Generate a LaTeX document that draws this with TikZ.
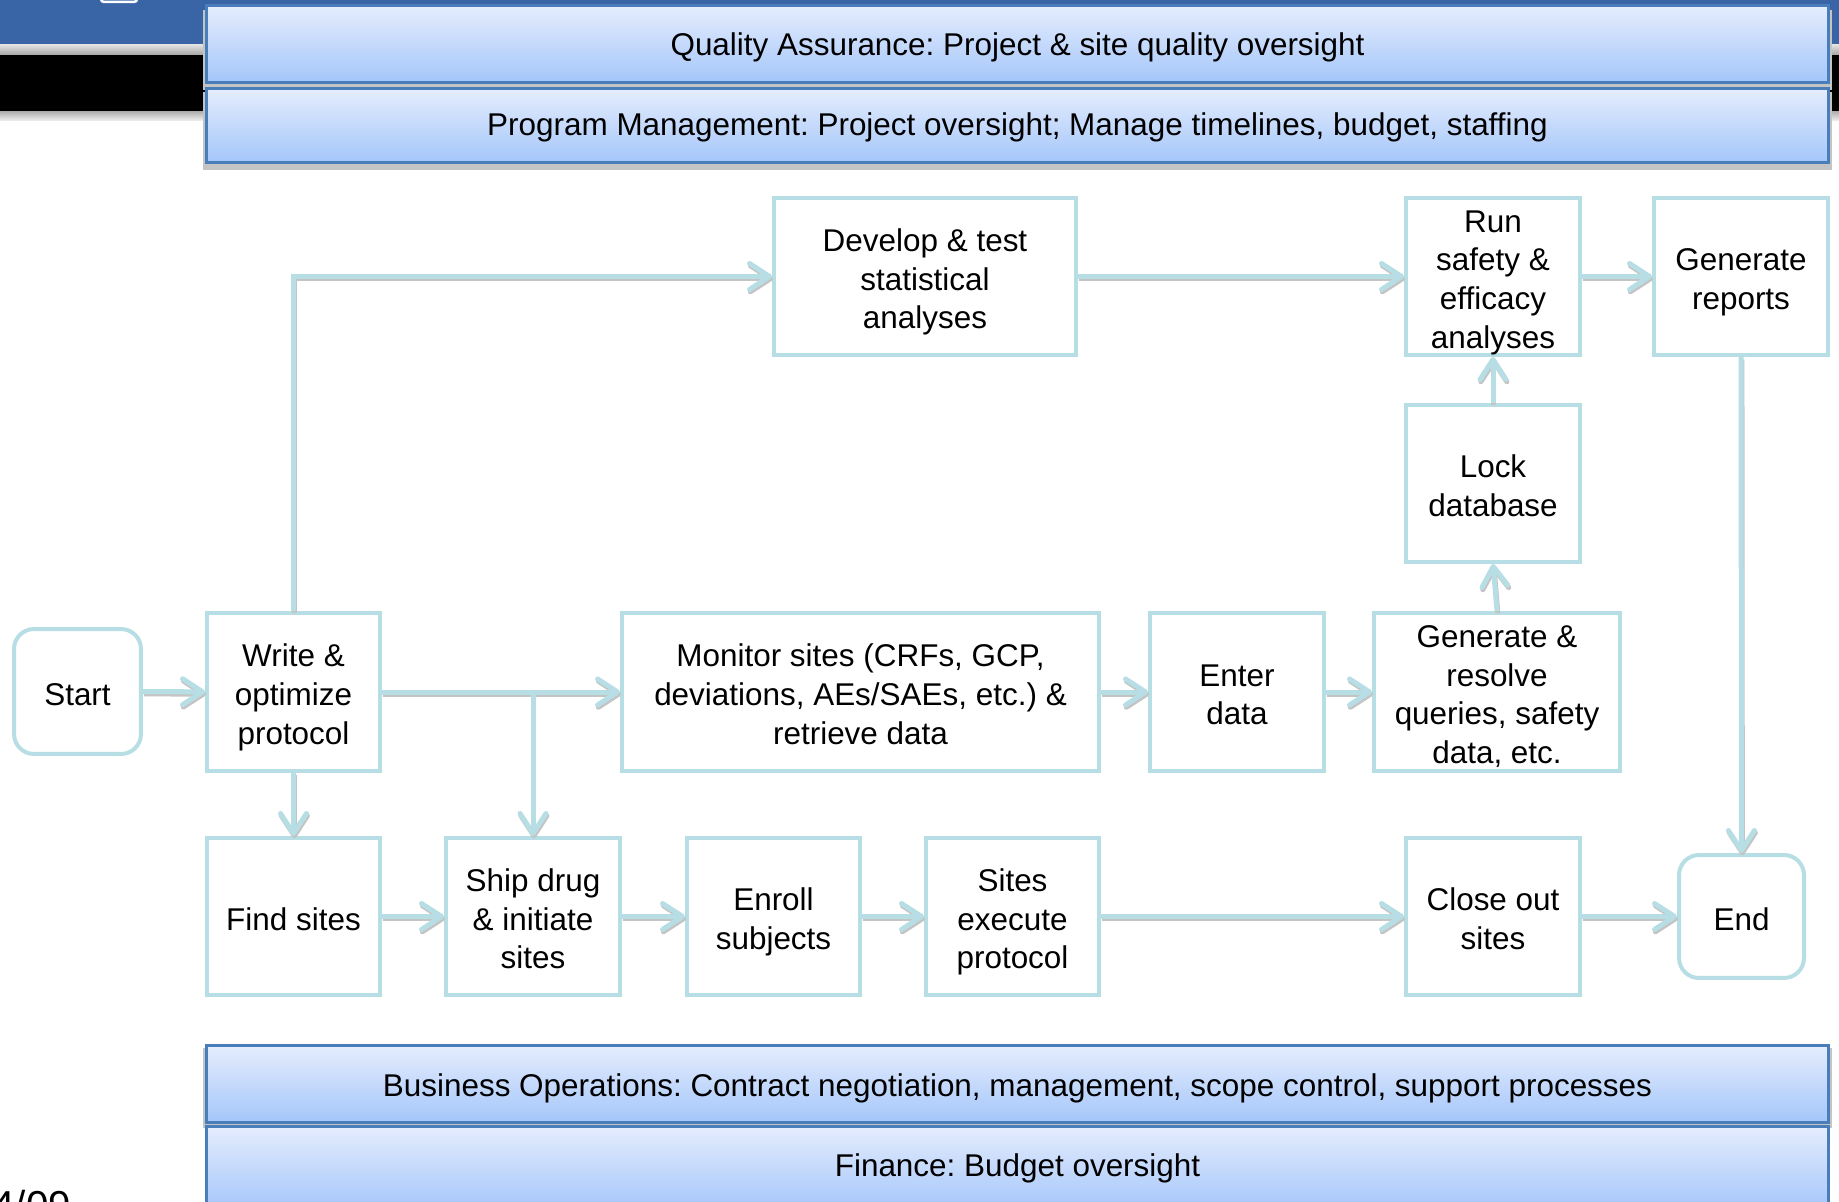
\documentclass[tikz,border=0pt]{standalone}
\usepackage{fontspec}
\setmainfont{Liberation Sans}
\usetikzlibrary{arrows.meta,calc}
\definecolor{boxc}{RGB}{183,222,228}
\definecolor{bandtop}{RGB}{229,237,253}
\definecolor{bandbot}{RGB}{164,198,250}
\definecolor{bandline}{RGB}{74,126,187}
\definecolor{hdrblue}{RGB}{57,101,167}
\definecolor{shadowc}{RGB}{196,196,196}
\newcommand\ta{\rule{0pt}{1.07em}}
\newcommand\tb{\rule[-0.21em]{0pt}{0.21em}}
\newcommand\tbx[1]{\rule[-#1]{0pt}{#1}}
\tikzset{
  boxtext/.style={font=\fontsize{17.9}{22}\selectfont\frenchspacing, align=center},
  procbox/.style={boxtext, draw=boxc, line width=0.08cm, fill=white, inner sep=0pt},
  termbox/.style={procbox, rounded corners=0.4cm},
  band/.style={boxtext, draw=bandline, line width=0.06cm, top color=bandtop, bottom color=bandbot,
    minimum width=32.44cm, inner sep=0pt},
  conn/.style={draw=boxc, line width=0.1cm, -{Straight Barb[length=0.4cm,width=0.52cm,round]}},
  connshadow/.style={conn, draw=shadowc, transform canvas={shift={(0.5pt,-1.3pt)}}},
}
\newcommand\arr[1]{\draw[connshadow] #1; \draw[conn] #1;}
\begin{document}
\begin{tikzpicture}[x=0.02cm,y=-0.02cm]
\useasboundingbox (0,0) rectangle (1839,1202);
% header strip
\fill[hdrblue] (0,-2) rectangle (1839,45);
\shade[top color=gray!25, bottom color=gray!70] (0,45) rectangle (1839,55);
\fill[black] (0,55) rectangle (1839,112);
\shade[top color=gray!60, bottom color=gray!10] (0,112) rectangle (1839,121);
\draw[white, line width=0.05cm, rounded corners=0.06cm] (101,-8) rectangle (137,2);

% band shadows
\fill[shadowc] (203,10) rectangle (1832,90);
\fill[shadowc] (203,92) rectangle (1832,170);
\fill[shadowc] (203,1048) rectangle (1832,1128);

% bands
\node[band, minimum height=1.54cm] (qa) at (1017.5,44) {\ta\tbx{5.6pt}Quality Assurance: Project \& site quality oversight};
\node[band, minimum height=1.48cm] (pm) at (1017.5,125.5) {\ta\tbx{7.8pt}Program Management: Project oversight; Manage timelines, budget, staffing};
\node[band, minimum height=1.54cm] (bo) at (1017.5,1084) {\ta\tbx{5pt}Business Operations: Contract negotiation, management, scope control, support processes};
\node[band, minimum height=1.68cm] (fin) at (1017.5,1168) {\ta\tbx{9.2pt}Finance: Budget oversight};

% process nodes
\node[termbox, minimum width=2.54cm, minimum height=2.50cm] (start) at (77.5,691.5) {\ta\tb Start};
\node[procbox, minimum width=3.46cm, minimum height=3.16cm] (write) at (293.5,692) {\ta Write \&\\optimize\\protocol\tb};
\node[procbox, minimum width=6.04cm, minimum height=3.14cm] (develop) at (925,276.5) {\ta Develop \& test\\statistical\\analyses\tb};
\node[procbox, minimum width=3.48cm, minimum height=3.14cm] (run) at (1493,276.5) {\ta Run\\safety \&\\efficacy\\analyses\tb};
\node[procbox, minimum width=3.48cm, minimum height=3.14cm] (genrep) at (1741,276.5) {\ta Generate\\reports\tb};
\node[procbox, minimum width=3.48cm, minimum height=3.14cm] (lock) at (1493,483.5) {\ta Lock\\database\tb};
\node[procbox, minimum width=9.54cm, minimum height=3.16cm] (monitor) at (860.5,692) {\ta Monitor sites (CRFs, GCP,\\deviations, AEs/SAEs, etc.) \&\\retrieve data\tb};
\node[procbox, minimum width=3.48cm, minimum height=3.16cm] (enter) at (1237,692) {\ta Enter\\data\tb};
\node[procbox, minimum width=4.92cm, minimum height=3.16cm] (genres) at (1497,692) {\ta Generate \&\\resolve\\queries, safety\\data, etc.\tb};
\node[procbox, minimum width=3.46cm, minimum height=3.14cm] (find) at (293.5,916.5) {\ta\tb Find sites};
\node[procbox, minimum width=3.48cm, minimum height=3.14cm] (ship) at (533,916.5) {\ta Ship drug\\\& initiate\\sites\tb};
\node[procbox, minimum width=3.46cm, minimum height=3.14cm] (enroll) at (773.5,916.5) {\ta Enroll\\subjects\tb};
\node[procbox, minimum width=3.46cm, minimum height=3.14cm] (sites) at (1012.5,916.5) {\ta Sites\\execute\\protocol\tb};
\node[procbox, minimum width=3.48cm, minimum height=3.14cm] (close) at (1493,916.5) {\ta Close out\\sites\tb};
\node[termbox, minimum width=2.50cm, minimum height=2.46cm] (end) at (1741.5,916.5) {\ta\tb End};

% date
\node[anchor=north west, inner sep=0pt, font=\fontsize{23}{27}\selectfont] (date) at (-8,1190) {4/09};

% connectors
\coordinate (jn) at (ship.north |- write.east);
\arr{(start) -- (write)}
\arr{(write.north) |- (develop.west)}
\arr{(develop) -- (run)}
\arr{(run) -- (genrep)}
\arr{(genrep) -- (end)}
\arr{(lock) -- (run)}
\arr{(genres.north) -- (lock.south)}
\arr{(write) -- (monitor)}
\arr{(jn) -- (ship)}
\arr{(write) -- (find)}
\arr{(monitor) -- (enter)}
\arr{(enter) -- (genres)}
\arr{(find) -- (ship)}
\arr{(ship) -- (enroll)}
\arr{(enroll) -- (sites)}
\arr{(sites) -- (close)}
\arr{(close) -- (end)}
\end{tikzpicture}
\end{document}
